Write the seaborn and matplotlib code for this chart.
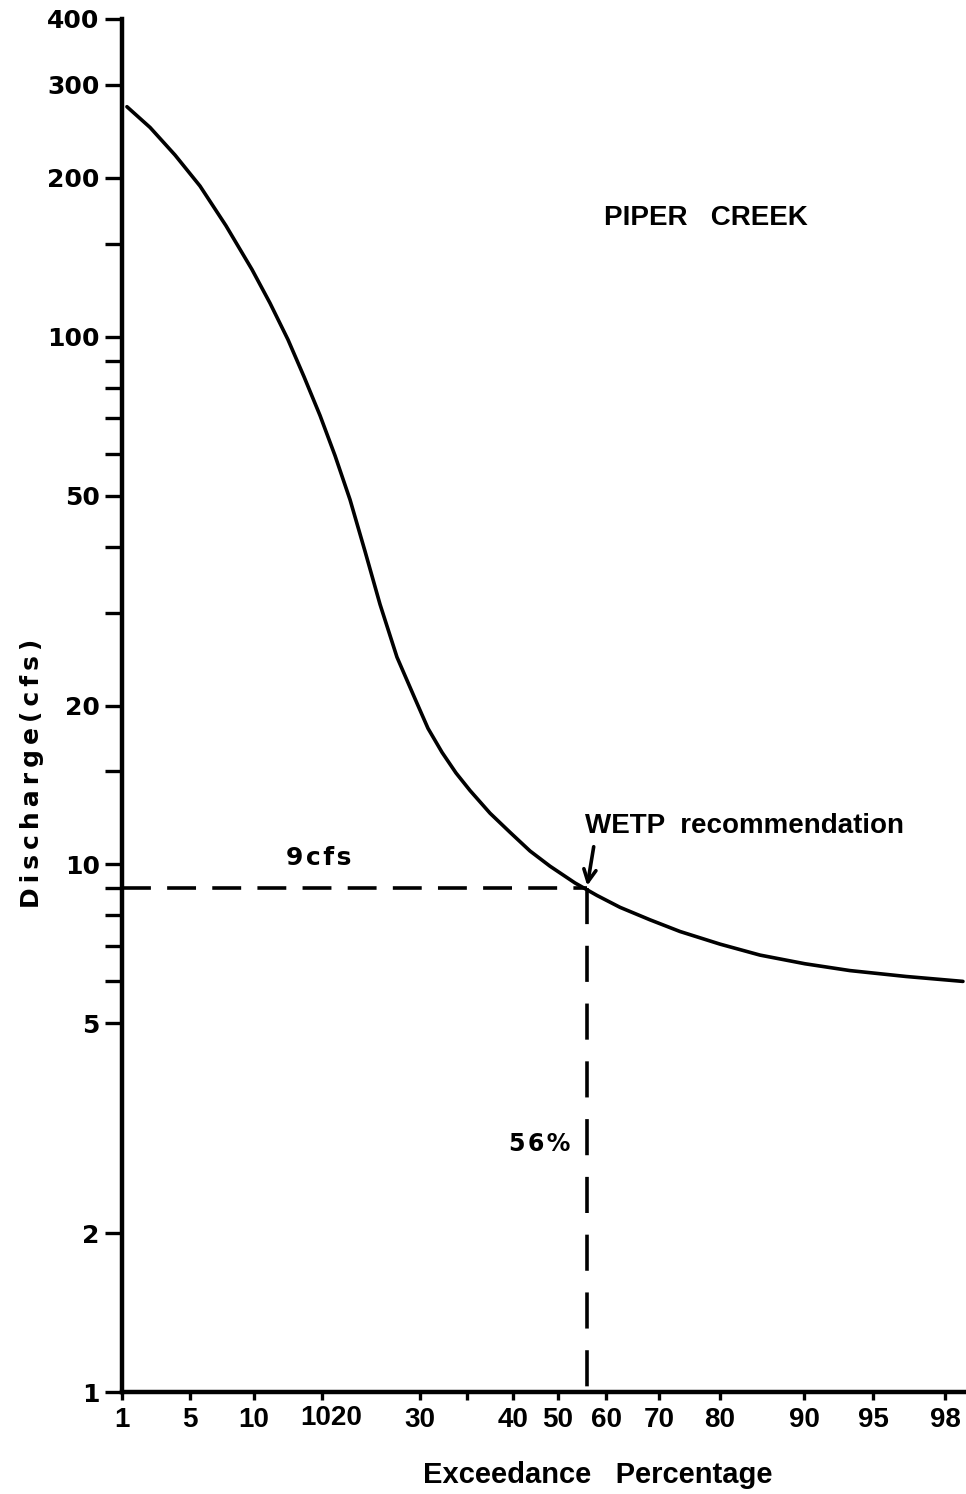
import numpy as np
import pandas as pd
import seaborn as sns
import matplotlib
matplotlib.use("Agg")
import matplotlib.pyplot as plt

# flow duration curve
exceed_pct = [1.29, 2.65, 4.12, 5.78, 7.81, 9.84, 12.35, 15.0, 17.35, 19.71, 21.33, 22.86,
              24.39, 25.92, 27.65, 29.49, 30.86, 32.37, 33.87, 35.38, 37.53, 39.68, 43.78,
              48.22, 53.54, 58.13, 62.64, 68.3, 73.44, 80.0, 84.76, 90.07, 93.33, 96.38, 99.71]
discharge = [272.8, 249.2, 220.9, 193.0, 162.3, 134.1, 115.8, 98.7, 84.0, 70.9, 59.5, 49.1,
             39.2, 31.1, 24.7, 20.6, 18.1, 16.3, 14.9, 13.8, 12.5, 11.5, 10.6,
             9.92, 9.22, 8.73, 8.29, 7.85, 7.46, 7.06, 6.73, 6.48, 6.29, 6.13, 6.0]

wetp_pct = 56
wetp_cfs = 9

x_ticks = [1, 5, 10, 20, 30, 40, 50, 60, 70, 80, 90, 95, 98]
x_minor = [35]
y_ticks = [1, 2, 5, 10, 20, 50, 100, 200, 300, 400]
y_minor = [6, 7, 8, 9, 15, 30, 40, 60, 70, 80, 90, 150]

# spacing of the hand-ruled percentage paper (position along the axis)
paper_pct = [0, 1, 5, 10, 20, 30, 40, 50, 60, 70, 80, 90, 95, 98, 100]
paper_pos = [105, 122, 190, 254, 322, 420, 513, 558, 606, 659, 720, 804, 873, 945, 966]


def fwd(v):
    return np.interp(v, paper_pct, paper_pos)


def inv(v):
    return np.interp(v, paper_pos, paper_pct)


sns.set_style("ticks")
plt.rcParams["font.family"] = ["Liberation Sans", "DejaVu Sans"]
plt.rcParams["text.color"] = "black"
plt.rcParams["xtick.color"] = "black"
plt.rcParams["ytick.color"] = "black"
plt.rcParams["xtick.labelcolor"] = "black"
plt.rcParams["ytick.labelcolor"] = "black"

fig = plt.figure(figsize=(9.66, 14.94), dpi=100)
ax = fig.add_axes([122 / 966, 1 - 1392 / 1494, 1 - 122 / 966, (1392 - 19) / 1494])

df = pd.DataFrame({"pct": exceed_pct, "cfs": discharge})
sns.lineplot(data=df, x="pct", y="cfs", ax=ax, color="black", lw=2.6, sort=False)

# WETP recommendation guide lines
ax.plot([1, wetp_pct], [wetp_cfs, wetp_cfs], color="black", lw=2.6, dashes=(8, 4.5))
ax.plot([wetp_pct, wetp_pct], [wetp_cfs, 1], color="black", lw=2.6, dashes=(10, 6))

ax.set_yscale("log")
ax.set_xscale("function", functions=(fwd, inv))
ax.set_xlim(1, 100)
ax.set_ylim(1, 400)

x_labels = [str(t) if t != 20 else "" for t in x_ticks]
ax.set_xticks(x_ticks, labels=x_labels, fontsize=20, fontweight="bold")
ax.set_xticks(x_minor, minor=True)
ax.set_yticks(y_ticks, labels=[str(t) for t in y_ticks], fontsize=18, fontweight="bold",
              family="DejaVu Sans")
ax.set_yticks(y_minor, minor=True)
ax.yaxis.set_minor_formatter(matplotlib.ticker.NullFormatter())
ax.tick_params(axis="y", which="both", length=12, width=2.4, pad=4, color="black",
               labelcolor="black")
ax.tick_params(axis="x", which="both", length=6, width=2.4, pad=5, color="black",
               labelcolor="black")
ax.set_xlabel("")
ax.set_ylabel("")

sns.despine(ax=ax)
for s in ["left", "bottom"]:
    ax.spines[s].set_linewidth(3.2)
    ax.spines[s].set_color("black")

# the 20 label is printed over a stray "10" on the original sheet
ax.annotate("1020", xy=(20, 1), xycoords="data", xytext=(6.5, -19), textcoords="offset points",
            ha="center", va="center", fontsize=20, fontweight="bold", color="black")

ax.text(0.692, 0.855, "PIPER   CREEK", transform=ax.transAxes, ha="center", va="center",
        fontsize=20, fontweight="bold", color="black")

ax.annotate("WETP  recommendation", xy=(wetp_pct, wetp_cfs), xycoords="data",
            xytext=(0.549, 0.412), textcoords="axes fraction", ha="left", va="center",
            fontsize=20, fontweight="bold", color="black",
            arrowprops=dict(arrowstyle="->", lw=2.6, color="black", relpos=(0.03, 0.0),
                            shrinkA=3, shrinkB=2, mutation_scale=22))

hs = "\u200a"
ts = "\u2009"
ax.text(19.5, 10.3, hs.join("9cfs"), ha="center", va="center", fontsize=18,
        fontweight="bold", family="DejaVu Sans", color="black")
ax.annotate(hs.join("56%"), xy=(wetp_pct, 2.95), xycoords="data", xytext=(-12, 0),
            textcoords="offset points", ha="right", va="center", fontsize=17,
            fontweight="bold", family="DejaVu Sans", color="black")

fig.text(32 / 966, 1 - 773 / 1494, ts.join("Discharge(cfs)"), rotation=90, ha="center",
         va="center", fontsize=18, fontweight="bold", family="DejaVu Sans", color="black")
fig.text(598 / 966, 1 - 1475 / 1494, "Exceedance   Percentage", ha="center", va="center",
         fontsize=21, fontweight="bold", color="black")

fig.savefig("out.png", dpi=100)
